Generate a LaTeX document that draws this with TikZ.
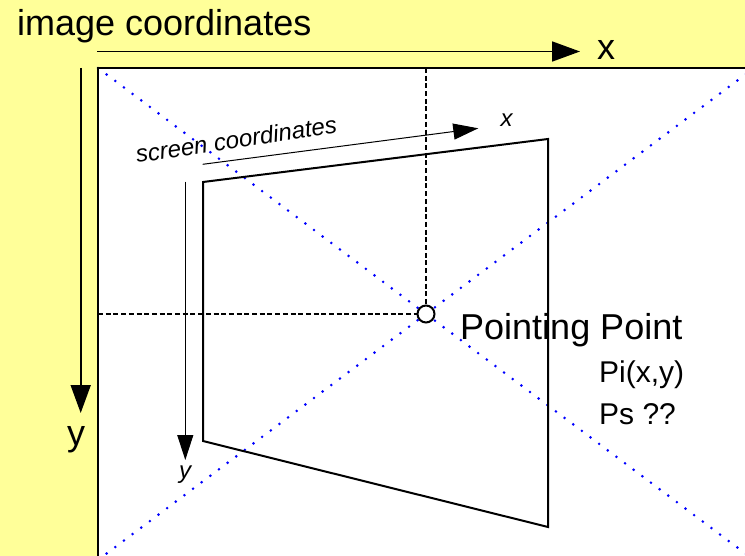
\documentclass[tikz,border=0pt]{standalone}
\usepackage{fontspec}
\setmainfont{Liberation Sans}
\usepackage{tikz}
\usetikzlibrary{arrows.meta,positioning}
\definecolor{paper}{RGB}{255,255,153}

\begin{document}
\begin{tikzpicture}[
  x=1pt, y=-1pt, line join=miter,
  frame/.style={draw=black, line width=2.2pt},
  screenedge/.style={draw=black, line width=2pt},
  bigaxis/.style={-{Triangle[length=28pt,width=20pt]}, line width=1.8pt},
  smallaxis/.style={-{Triangle[length=25pt,width=16pt]}, line width=1pt},
  guide/.style={draw=black, line width=1.5pt, dash pattern=on 5pt off 2.7pt},
  diag/.style={draw=blue, line width=2.9pt, line cap=round,
               dash pattern=on 0pt off 10.8pt},
  biglabel/.style={font=\fontsize{36}{40}\selectfont, inner sep=0pt},
  midlabel/.style={font=\fontsize{30}{34}\selectfont, inner sep=0pt},
  smalllabel/.style={font=\fontsize{24}{28}\selectfont\itshape, inner sep=0pt},
  ppoint/.style={circle, draw=black, fill=white, line width=2pt,
                 minimum size=17pt, inner sep=0pt}
]
  % --- background and image area ---
  \fill[paper] (0,0) rectangle (745,556);
  \useasboundingbox (0,0) rectangle (745,556);
  \fill[white] (98,68) rectangle (754,560);

  % --- corners of the image and the screen ---
  \coordinate (imgTL) at (98,68);
  \coordinate (imgTR) at (754,68);
  \coordinate (imgBL) at (98,560);
  \coordinate (imgBR) at (754,560);
  \coordinate (scrTL) at (203,182);
  \coordinate (scrTR) at (548,139);
  \coordinate (scrBR) at (548,527);
  \coordinate (scrBL) at (203,441);

  % --- diagonals of the image ---
  \draw[diag] (imgTL) -- (imgBR);
  \draw[diag] (imgBL) -- (imgTR);

  % --- image frame (right and bottom edges fall off the page) ---
  \draw[frame] (imgBL) -- (imgTL) -- (imgTR);

  % --- screen ---
  \draw[screenedge] (scrTL) -- (scrTR) -- (scrBR) -- (scrBL) -- cycle;

  % --- pointing point and its guides ---
  \node[ppoint] (pp) at (426,314) {};
  \coordinate (guideTop) at (426,68);
  \coordinate (guideLeft) at (98,314);
  \draw[guide] (guideTop) -- (pp.north);
  \draw[guide] (guideLeft) -- (pp.west);

  % --- image axes ---
  \coordinate (ixStart) at (97,51.5);
  \coordinate (ixEnd) at (580,51.5);
  \coordinate (iyStart) at (80.7,68);
  \coordinate (iyEnd) at (80.7,413);
  \draw[bigaxis] (ixStart) -- (ixEnd);
  \draw[bigaxis] (iyStart) -- (iyEnd);

  % --- screen axes ---
  \coordinate (sxStart) at (202.7,164.3);
  \coordinate (sxEnd) at (478.3,128.3);
  \coordinate (syStart) at (185.3,181.7);
  \coordinate (syEnd) at (185.3,460);
  \draw[smallaxis] (sxStart) -- (sxEnd);
  \draw[smallaxis] (syStart) -- (syEnd);

  % --- labels ---
  \node[biglabel, anchor=base west] (imgtitle) at (17,36) {image coordinates};
  \node[biglabel, anchor=base west] (ixlabel) at (597,60) {x};
  \node[biglabel, anchor=base west] (iylabel) at (67,445) {y};
  \node[smalllabel, anchor=base west, rotate=8.5] (scrtitle) at (137,163)
       {screen coordinates};
  \node[smalllabel] (sxlabel) at (506.5,120.5) {x};
  \node[smalllabel] (sylabel) at (185,475) {y};
  \node[biglabel, anchor=base west] (pptitle) at (460,340) {Pointing Point};
  \node[midlabel, anchor=base west] (pimage) at (599,382) {Pi(x,y)};
  \node[midlabel, anchor=base west] (pscreen) at (599,424) {Ps ??};
\end{tikzpicture}
\end{document}
